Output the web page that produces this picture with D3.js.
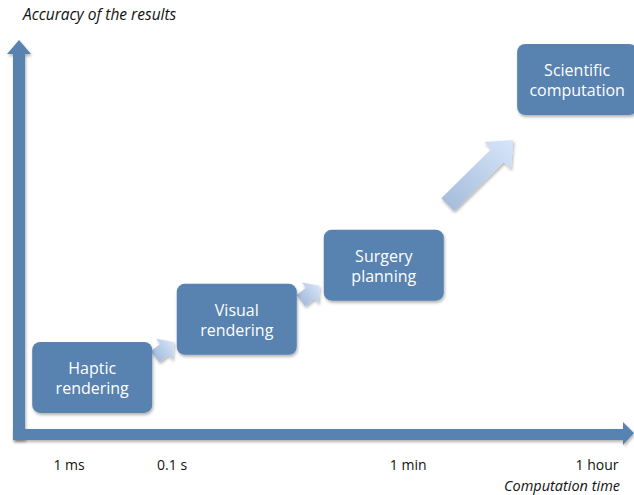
<!DOCTYPE html>
<html><head><meta charset="utf-8">
<script src="https://cdn.jsdelivr.net/npm/d3@7"></script>
<style>
html,body{margin:0;padding:0;background:#fff;}
svg{display:block;}
</style></head>
<body>
<script>
// ---- data ----
const taskNames = ["Haptic rendering", "Visual rendering", "Surgery planning", "Scientific computation"];
const taskLines = [["Haptic", "rendering"], ["Visual", "rendering"], ["Surgery", "planning"], ["Scientific", "computation"]];
const taskTime = [1.2, 3.57, 5.98, 9.15];      // abstract computation-time position (0-10)
const taskAccuracy = [1.45, 2.94, 4.33, 9.09]; // abstract accuracy position (0-10)
const tickLabels = ["1 ms", "0.1 s", "1 min", "1 hour"];
const tickValues = [0.82, 2.51, 6.38, 9.475];
const xTitle = "Computation time";
const yTitle = "Accuracy of the results";

// ---- setup ----
const W = 634, H = 495;
const x = d3.scaleLinear().domain([0, 10]).range([19, 629]);
const y = d3.scaleLinear().domain([0, 10]).range([434, 44]);
const boxW = 120, boxH = 71;
const blue = "#5882b0";
const font = "'Open Sans', 'DejaVu Sans', sans-serif";

const svg = d3.select("body").append("svg").attr("width", W).attr("height", H);
const defs = svg.append("defs");
const f = defs.append("filter").attr("id", "sh").attr("x", "-10%").attr("y", "-10%").attr("width", "130%").attr("height", "140%");
f.append("feDropShadow").attr("dx", 1).attr("dy", 2).attr("stdDeviation", 1.5).attr("flood-color", "#000").attr("flood-opacity", 0.3);

// ---- axes ----
const x0 = x(0), yBase = y(0);
svg.append("path")
  .attr("d", `M${x0-6},${yBase+6} L${x0-6},54 L${x0-12},54 L${x0},40 L${x0+12},54 L${x0+6},54 L${x0+6},${yBase+6} Z`)
  .attr("fill", blue).attr("filter", "url(#sh)");
svg.append("path")
  .attr("d", `M${x0-6},${yBase-5} L623,${yBase-5} L623,${yBase-12} L634,${yBase-1} L623,${yBase+11} L623,${yBase+6} L${x0-6},${yBase+6} Z`)
  .attr("fill", blue).attr("filter", "url(#sh)");

// ---- tick labels ----
svg.selectAll("text.tick").data(tickLabels).join("text")
  .attr("class", "tick")
  .attr("x", (d, i) => x(tickValues[i]))
  .attr("y", 470)
  .attr("text-anchor", "middle")
  .attr("font-family", font).attr("font-size", 14).attr("fill", "#111")
  .text(d => d);

svg.append("text").attr("x", 620).attr("y", 491).attr("text-anchor", "end")
  .attr("font-family", font).attr("font-size", 14.5).attr("font-style", "italic").attr("fill", "#111")
  .text(xTitle);
svg.append("text").attr("x", 23).attr("y", 20)
  .attr("font-family", font).attr("font-size", 15.5).attr("font-style", "italic").attr("fill", "#111")
  .text(yTitle);

// ---- arrows between boxes ----
function arrowPath(cx, cy, len, shaftW, headW, headL, angDeg) {
  const pts = [
    [-len/2, -shaftW/2], [len/2 - headL, -shaftW/2], [len/2 - headL, -headW/2], [len/2, 0],
    [len/2 - headL, headW/2], [len/2 - headL, shaftW/2], [-len/2, shaftW/2]
  ];
  const a = angDeg * Math.PI / 180, c = Math.cos(a), s = Math.sin(a);
  return "M" + pts.map(p => [cx + p[0]*c - p[1]*s, cy + p[0]*s + p[1]*c].join(",")).join("L") + "Z";
}
for (let i = 0; i < taskNames.length - 1; i++) {
  const ax = (x(taskTime[i]) + boxW/2 + x(taskTime[i+1]) - boxW/2) / 2;
  const ay = (y(taskAccuracy[i]) - boxH/2 + y(taskAccuracy[i+1]) + boxH/2) / 2;
  const big = i === taskNames.length - 2;
  const ang = big ? -44.5 : -38;
  const len = big ? 92 : 24;
  const p = big ? arrowPath(ax, ay, len, 18, 38, 22, ang) : arrowPath(ax, ay + 1, len, 14, 27, 12, ang);
  const gid = "ag" + i;
  const a = ang * Math.PI / 180;
  defs.append("linearGradient").attr("id", gid).attr("gradientUnits", "userSpaceOnUse")
    .attr("x1", ax - Math.cos(a)*len/2).attr("y1", ay - Math.sin(a)*len/2)
    .attr("x2", ax + Math.cos(a)*len/2).attr("y2", ay + Math.sin(a)*len/2)
    .call(s => { s.append("stop").attr("offset", 0).attr("stop-color", "#a7bddb");
                 s.append("stop").attr("offset", 1).attr("stop-color", "#d6e6fb"); });
  svg.append("path").attr("d", p).attr("fill", `url(#${gid})`).attr("filter", "url(#sh)");
}

// ---- boxes ----
const boxes = svg.selectAll("g.box").data(taskNames).join("g").attr("class", "box")
  .attr("transform", (d, i) => `translate(${x(taskTime[i])},${y(taskAccuracy[i])})`);
boxes.append("rect")
  .attr("x", -boxW/2).attr("y", -boxH/2).attr("width", boxW).attr("height", boxH)
  .attr("rx", 8).attr("ry", 8).attr("fill", blue).attr("filter", "url(#sh)");
boxes.each(function(d, i) {
  const gb = d3.select(this);
  taskLines[i].forEach((ln, j) => {
    gb.append("text").attr("text-anchor", "middle")
      .attr("font-family", font).attr("font-size", 16).attr("fill", "#fff")
      .attr("x", 0).attr("y", -3 + j * 20).text(ln);
  });
});
</script>
</body></html>
